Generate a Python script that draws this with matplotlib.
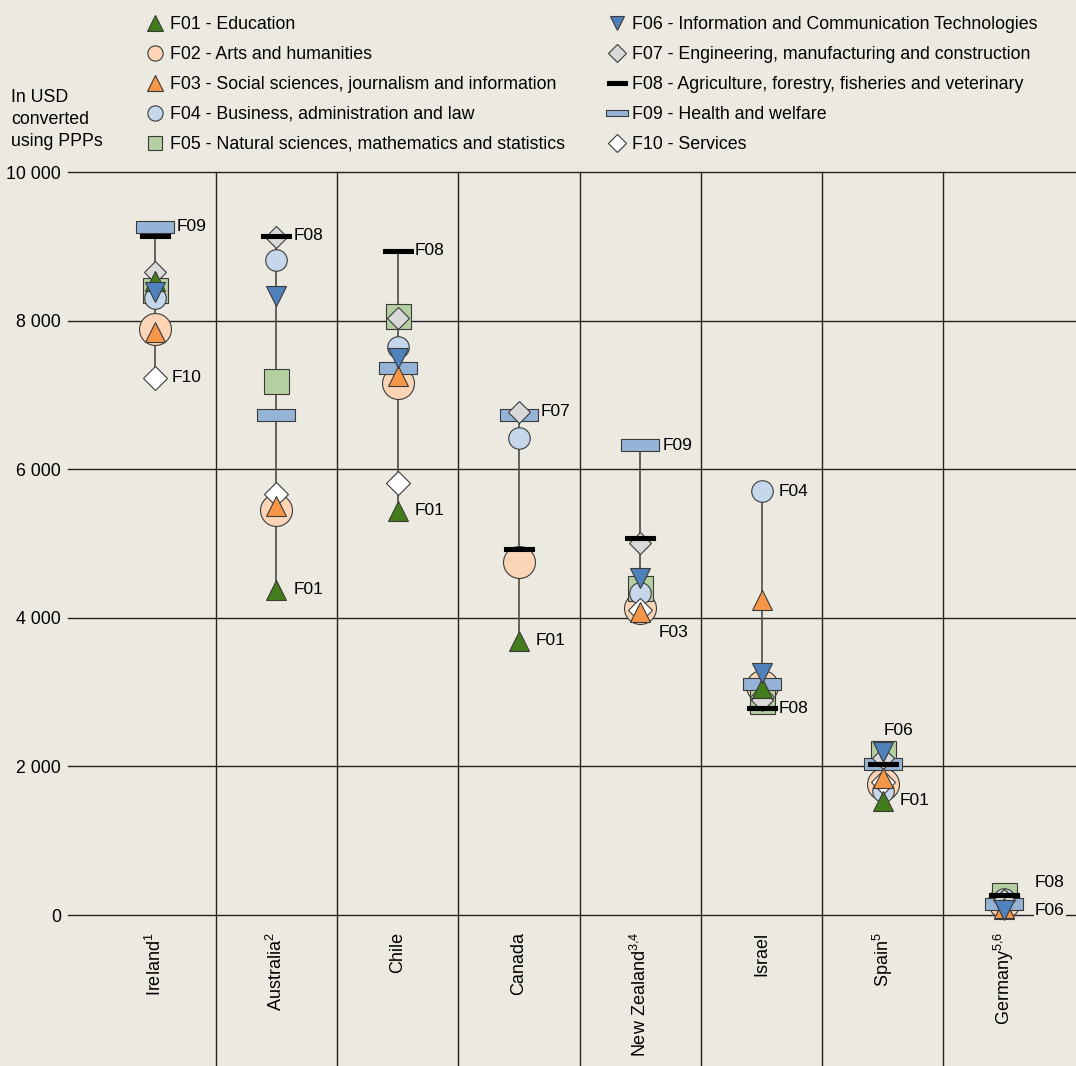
import matplotlib.pyplot as plt
import numpy as np
from matplotlib.lines import Line2D

W, H = 1076, 1066
BG = "#ECEAE0"
EDGE = "#3A3A3A"
FONT = ["Liberation Sans", "DejaVu Sans"]

plt.rcParams["mathtext.fontset"] = "custom"
plt.rcParams["mathtext.rm"] = "Liberation Sans"

countries = [r"Ireland$^{\mathrm{1}}$", r"Australia$^{\mathrm{2}}$", "Chile", "Canada",
             r"New Zealand$^{\mathrm{3{,}4}}$", "Israel", r"Spain$^{\mathrm{5}}$",
             r"Germany$^{\mathrm{5{,}6}}$"]

fields = ["F01", "F02", "F03", "F04", "F05", "F06", "F07", "F08", "F09", "F10"]
field_names = ["Education", "Arts and humanities",
               "Social sciences, journalism and information",
               "Business, administration and law",
               "Natural sciences, mathematics and statistics",
               "Information and Communication Technologies",
               "Engineering, manufacturing and construction",
               "Agriculture, forestry, fisheries and veterinary",
               "Health and welfare", "Services"]

nan = np.nan
# USD converted using PPPs, one value per country (same order as countries)
f01 = [8530, 4375, 5440, 3690, nan, 3055, 1535, 75]
f02 = [7890, 5450, 7160, 4745, 4130, 3080, 1765, 180]
f03 = [7850, 5505, 7260, nan, 4080, 4240, 1845, 90]
f04 = [8300, 8820, 7640, 6425, 4330, 5700, 1670, 220]
f05 = [8410, 7190, 8065, nan, 4400, 2880, 2180, 265]
f06 = [8385, 8330, 7500, nan, 4530, 3260, 2190, 65]
f07 = [8650, 9120, 8040, 6775, 5005, 2900, 2110, 200]
f08 = [9140, 9140, 8940, 4930, 5080, 2780, 2035, 270]
f09 = [9260, 6725, 7360, 6725, 6325, 3110, 2035, 150]
f10 = [7230, 5670, 5810, nan, 4100, 2930, 1790, 190]

yticks = [0, 2000, 4000, 6000, 8000, 10000]
ytick_labels = ["0", "2 000", "4 000", "6 000", "8 000", "10 000"]

values = np.array([f01, f02, f03, f04, f05, f06, f07, f08, f09, f10], dtype=float)

# flat bar / flat rectangle markers (closed outlines)
BAR = [(-1, -0.17), (1, -0.17), (1, 0.17), (-1, 0.17), (-1, -0.17)]
RECT = [(-1, -0.29), (1, -0.29), (1, 0.29), (-1, 0.29), (-1, -0.29)]

# marker, face colour, plot size (pt), legend size (pt)
STYLE = {
    "F01": ("^", "#437C1B", 15, 11),
    "F02": ("o", "#FCD5B6", 23, 11),
    "F03": ("^", "#F79646", 15, 11),
    "F04": ("o", "#C6D7EC", 15.5, 11),
    "F05": ("s", "#B5D0A0", 18, 10.5),
    "F06": ("v", "#4F81BD", 14.5, 10),
    "F07": ("D", "#D9D9D9", 11.5, 9.5),
    "F08": (BAR, "#000000", 21, 14.5),
    "F09": (RECT, "#95B3D7", 27.5, 15.5),
    "F10": ("D", "#FFFFFF", 12.7, 9.5),
}
DRAW_ORDER = ["F02", "F05", "F04", "F10", "F09", "F07", "F08", "F01", "F03", "F06"]

# label offsets in pixels (dx, dy); default is to the right of the marker
LABEL_DX = {"F09": 22, "F07": 22}
LABEL_OVERRIDE = {(6, "max"): (1, 22), (4, "min"): (18, -21),
                  (7, "max"): (31, 12), (7, "min"): (31, 0)}

px = 0.72  # pixel -> point at dpi 100
TXT = 12.8

fig = plt.figure(figsize=(W / 100, H / 100), dpi=100, facecolor=BG)
top = 172
ax = fig.add_axes([68 / W, 0, 1 - 68 / W, 1 - top / H])
ax.set_facecolor(BG)
for s in ax.spines.values():
    s.set_visible(False)

per_px = 10000 / (915 - top)
ax.set_ylim(-(H - 915) * per_px, 10000)
col_w = 121.3
ax.set_xlim((68 - 155) / col_w, (W - 155) / col_w)

# grid: horizontal value lines and column separators
for v in yticks:
    ax.axhline(v, color="#222222", lw=1.0, zorder=1, clip_on=False)
for i in range(len(countries) - 1):
    ax.axvline(i + 0.5, 0, 1, color="#222222", lw=1.0, zorder=1)

ax.set_yticks(yticks)
ax.set_yticklabels(ytick_labels, family=FONT, fontsize=TXT)
ax.tick_params(axis="y", length=0, pad=5)
ax.set_xticks([])

x = np.arange(len(countries))
lo = np.nanmin(values, axis=0)
hi = np.nanmax(values, axis=0)
ax.vlines(x, lo, hi, color="#4A4A4A", lw=1.2, zorder=2)

for z, f in enumerate(DRAW_ORDER):
    i = fields.index(f)
    mk, col, ms, _ = STYLE[f]
    ax.plot(x, values[i], linestyle="none", marker=mk, markersize=ms,
            markerfacecolor=col, markeredgecolor=EDGE if f != "F08" else "#000000",
            markeredgewidth=0.8, zorder=3 + z)

# name the highest and lowest field of every country
for j in range(len(countries)):
    col_vals = values[:, j]
    for kind, i in (("max", np.nanargmax(col_vals)), ("min", np.nanargmin(col_vals))):
        dx, dy = LABEL_OVERRIDE.get((j, kind), (LABEL_DX.get(fields[i], 17), 0))
        ax.annotate(fields[i], (x[j], col_vals[i]), xytext=(dx * px, dy * px),
                    textcoords="offset points", ha="left", va="center",
                    fontsize=12.5, family=FONT, zorder=20,
                    bbox=dict(facecolor=BG, edgecolor="none", pad=0.6))

for j, name in enumerate(countries):
    ax.text(x[j], -(932 - 915) * per_px, name, rotation=90, ha="center", va="top",
            fontsize=13, family=FONT)

fig.text(11 / W, 1 - 89 / H, "In USD\nconverted\nusing PPPs", ha="left", va="top",
         fontsize=TXT, family=FONT, linespacing=1.37)

handles = []
for f, nm in zip(fields, field_names):
    mk, col, _, lms = STYLE[f]
    handles.append(Line2D([], [], linestyle="none", marker=mk, markersize=lms,
                          markerfacecolor=col, markeredgewidth=0.8,
                          markeredgecolor=EDGE if f != "F08" else "#000000",
                          label=f"{f} - {nm}"))

leg_kw = dict(loc="upper left", frameon=False, borderpad=0, borderaxespad=0,
              handlelength=1.1, handletextpad=0.3, labelspacing=0.73,
              prop={"family": FONT, "size": TXT})
fig.legend(handles=handles[:5], bbox_to_anchor=(145 / W, 1 - 16 / H), **leg_kw)
fig.legend(handles=handles[5:], bbox_to_anchor=(607 / W, 1 - 16 / H), **leg_kw)

fig.savefig("out.png", dpi=100, facecolor=BG)
